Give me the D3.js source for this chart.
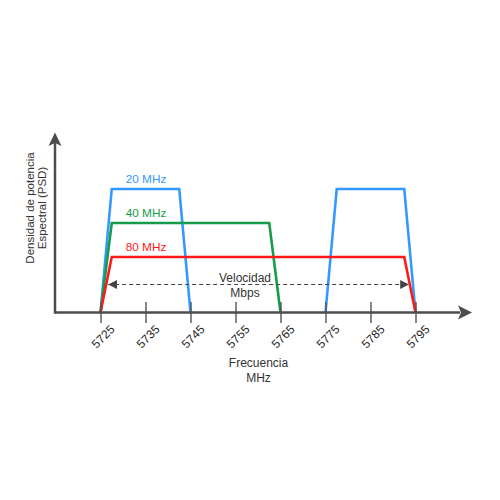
<!DOCTYPE html>
<html>
<head>
<meta charset="utf-8">
<script src="https://cdn.jsdelivr.net/npm/d3@7"></script>
<style>
  body { margin: 0; background: #fff; }
  text { font-family: "Liberation Sans", Arial, sans-serif; }
</style>
</head>
<body>
<div id="chart"></div>
<script>
// Data
var freqTicks = [5725, 5735, 5745, 5755, 5765, 5775, 5785, 5795]
var band20a = [[5725, 0], [5727.5, 69], [5742.5, 69], [5745, 0]]
var band20b = [[5775, 0], [5777.5, 69], [5792.5, 69], [5795, 0]]
var band40 = [[5725, 0], [5727.5, 50], [5762.5, 50], [5765, 0]]
var band80 = [[5725, 0], [5727.5, 31], [5792.5, 31], [5795, 0]]
var bandLabels = ["20 MHz", "40 MHz", "80 MHz"]
var speedRange = [5726.7, 5793.6]

var width = 500
var height = 500

const svg = d3.select('#chart').append('svg')
  .attr('width', width)
  .attr('height', height)

// Scales
const x = d3.scaleLinear()
  .domain([5725, 5795])
  .range([100.5, 415.5])

const y = d3.scaleLinear()
  .domain([0, 100])
  .range([312.5, 133.5])

const line = d3.line()
  .x(d => x(d[0]))
  .y(d => y(d[1]))

// Arrow marker for dashed line
const defs = svg.append('defs')
defs.append('marker')
  .attr('id', 'head')
  .attr('viewBox', '0 0 10 10')
  .attr('refX', 10)
  .attr('refY', 5)
  .attr('markerWidth', 9)
  .attr('markerHeight', 9)
  .attr('markerUnits', 'userSpaceOnUse')
  .attr('orient', 'auto-start-reverse')
  .append('path')
  .attr('d', 'M0,0 L10,5 L0,10 Z')
  .attr('fill', '#444')

// Bands
const series = [
  { data: band20a, color: '#3399ff' },
  { data: band20b, color: '#3399ff' },
  { data: band40, color: '#169c4a' },
  { data: band80, color: '#ff1a1a' }
]

svg.append('g')
  .selectAll('path')
  .data(series)
  .enter()
  .append('path')
  .attr('d', d => line(d.data))
  .attr('fill', 'none')
  .attr('stroke', d => d.color)
  .attr('stroke-width', 2.6)
  .attr('stroke-linejoin', 'miter')

// Band labels
const labelInfo = [
  { text: bandLabels[0], level: 69, color: '#3399ff' },
  { text: bandLabels[1], level: 50, color: '#169c4a' },
  { text: bandLabels[2], level: 31, color: '#ff1a1a' }
]
svg.append('g')
  .selectAll('text')
  .data(labelInfo)
  .enter()
  .append('text')
  .attr('x', x(5730.6))
  .attr('y', d => y(d.level) - 6)
  .attr('fill', d => d.color)
  .attr('font-size', 11.8)
  .text(d => d.text)

// Speed dashed arrow
svg.append('line')
  .attr('x1', x(speedRange[0]))
  .attr('x2', x(speedRange[1]))
  .attr('y1', 284.5)
  .attr('y2', 284.5)
  .attr('stroke', '#444')
  .attr('stroke-width', 1.2)
  .attr('stroke-dasharray', '4,3')
  .attr('marker-start', 'url(#head)')
  .attr('marker-end', 'url(#head)')

svg.append('text')
  .attr('x', 245)
  .attr('y', 282)
  .attr('text-anchor', 'middle')
  .attr('font-size', 12)
  .attr('fill', '#333')
  .text('Velocidad')
svg.append('text')
  .attr('x', 245)
  .attr('y', 296.5)
  .attr('text-anchor', 'middle')
  .attr('font-size', 12)
  .attr('fill', '#333')
  .text('Mbps')

// X ticks
const xAxis = svg.append('g')
  .attr('transform', 'translate(0,302)')
  .call(d3.axisBottom(x).tickValues(freqTicks).tickSize(21).tickFormat(d3.format('d')))
xAxis.select('.domain').remove()
xAxis.selectAll('.tick line')
  .attr('stroke', '#555')
  .attr('stroke-width', 1.4)
xAxis.selectAll('.tick text')
  .attr('font-size', 12)
  .attr('fill', '#222')
  .attr('text-anchor', 'middle')
  .attr('y', 0)
  .attr('dy', 0)
  .attr('transform', 'translate(5,37.5) rotate(-45)')

// Axis lines with arrows
const axisColor = '#4d4d4d'
svg.append('line')
  .attr('x1', 55).attr('y1', 312.5)
  .attr('x2', 460).attr('y2', 312.5)
  .attr('stroke', axisColor)
  .attr('stroke-width', 2.5)
svg.append('path')
  .attr('d', 'M472,312.5 L458,305.5 L461,312.5 L458,319.5 Z')
  .attr('fill', axisColor)
svg.append('line')
  .attr('x1', 55).attr('y1', 313.7)
  .attr('x2', 55).attr('y2', 143)
  .attr('stroke', axisColor)
  .attr('stroke-width', 2.5)
svg.append('path')
  .attr('d', 'M55,132.5 L48.5,146 L55,143 L61.5,146 Z')
  .attr('fill', axisColor)

// X axis title
svg.append('text')
  .attr('x', 258.5)
  .attr('y', 367)
  .attr('text-anchor', 'middle')
  .attr('font-size', 12)
  .attr('fill', '#333')
  .text('Frecuencia')
svg.append('text')
  .attr('x', 258.5)
  .attr('y', 382)
  .attr('text-anchor', 'middle')
  .attr('font-size', 12)
  .attr('fill', '#333')
  .text('MHz')

// Y axis title
svg.append('text')
  .attr('transform', 'translate(34,208) rotate(-90)')
  .attr('text-anchor', 'middle')
  .attr('font-size', 11.5)
  .attr('fill', '#333')
  .text('Densidad de potencia')
svg.append('text')
  .attr('transform', 'translate(46,208) rotate(-90)')
  .attr('text-anchor', 'middle')
  .attr('font-size', 11.5)
  .attr('fill', '#333')
  .text('Espectral (PSD)')
</script>
</body>
</html>
